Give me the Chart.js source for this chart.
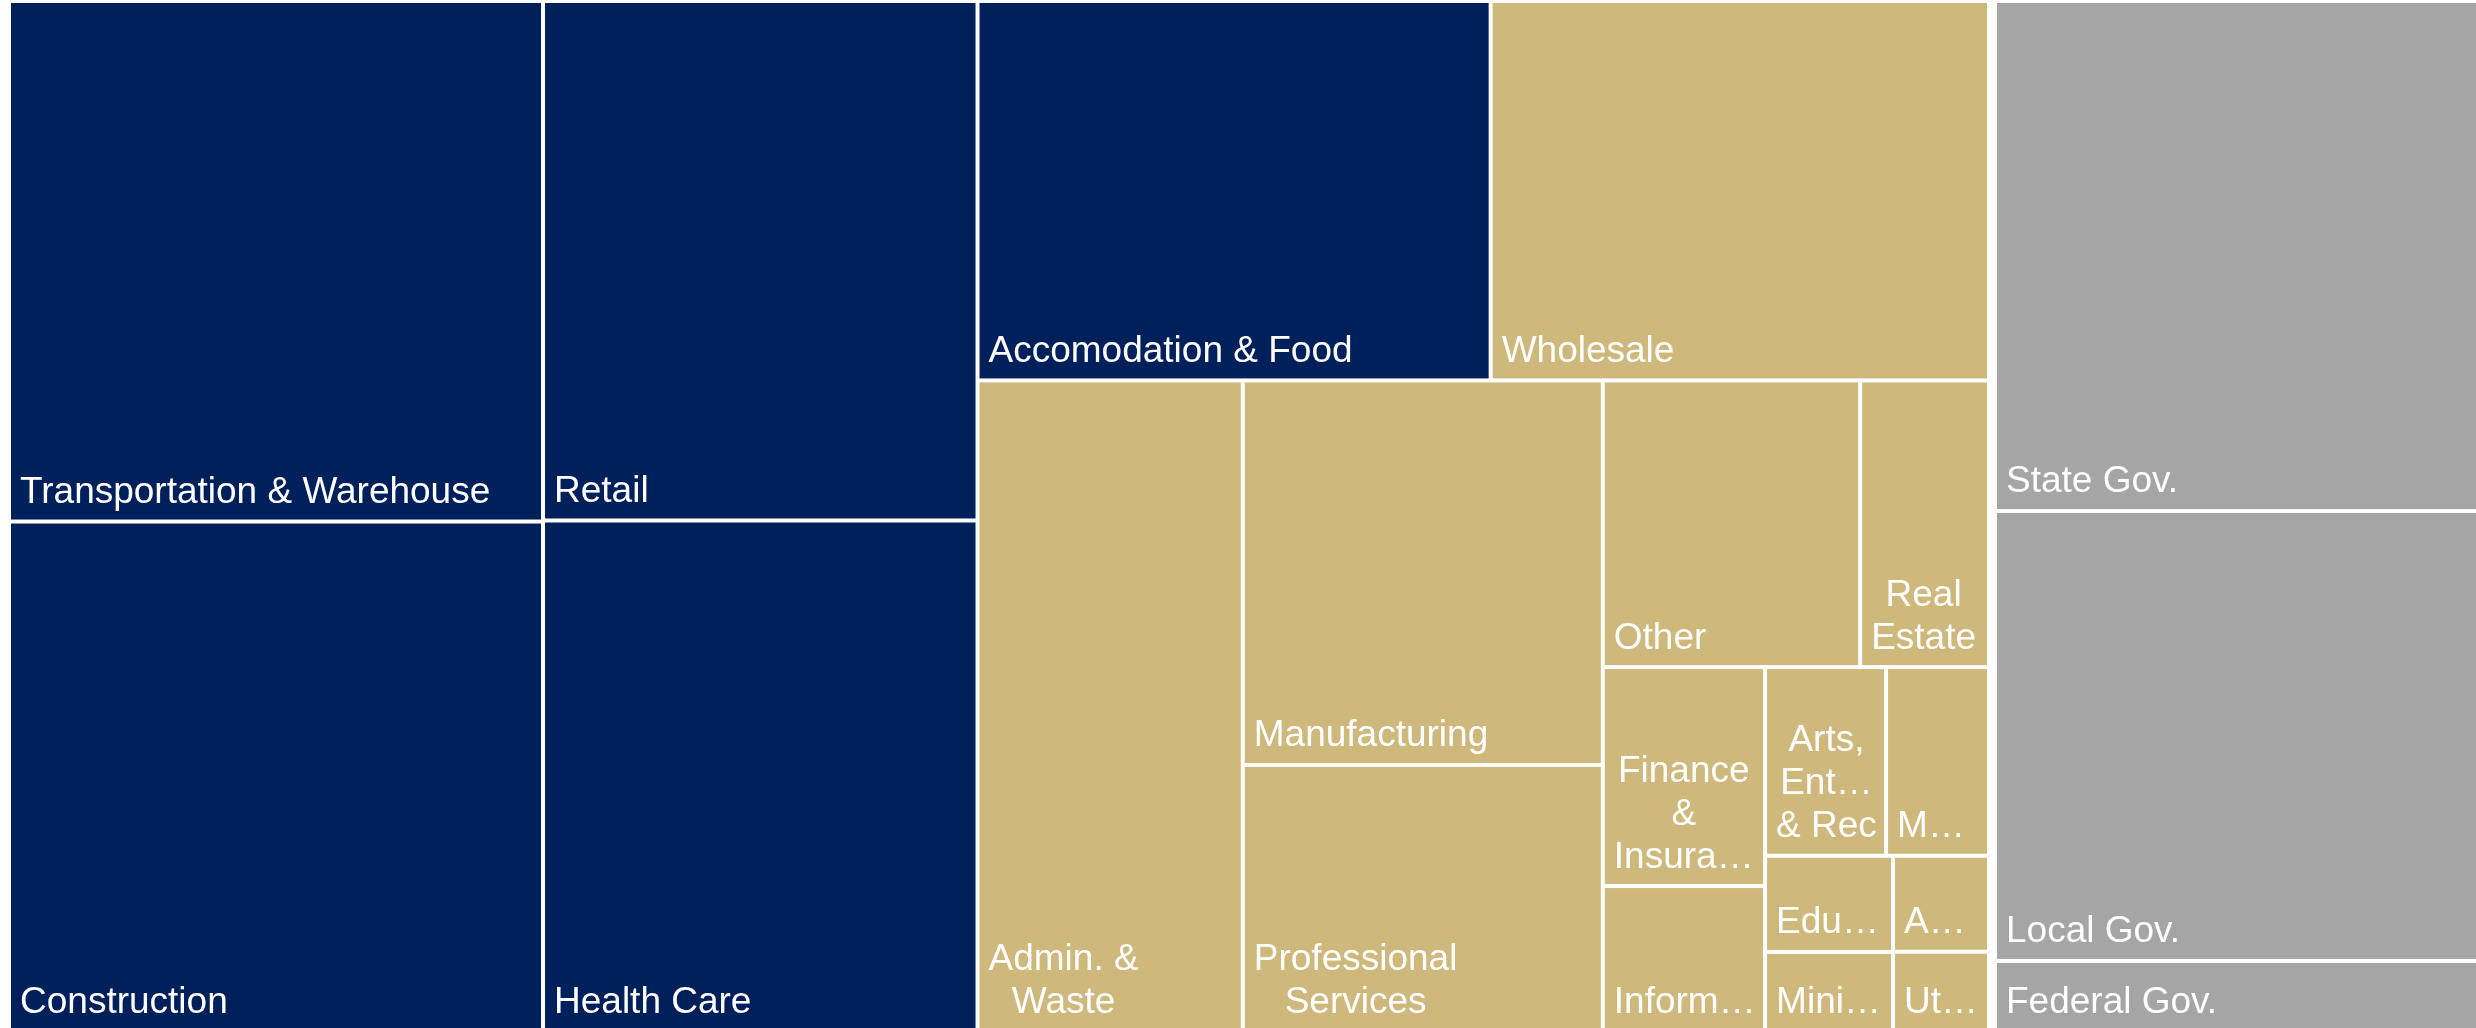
<!DOCTYPE html>
<html lang="en">
<head>
<meta charset="UTF-8" />
<title>Jobs by industry</title>
<script src="https://cdn.jsdelivr.net/npm/chart.js"></script>
<style>
  html, body { margin: 0; padding: 0; background: #ffffff; }
  #wrap { width: 2476px; height: 1028px; }
</style>
</head>
<body>
<div id="wrap"><canvas id="treemap"></canvas></div>
<script>
// Private industries, largest first
const industries = [
  "Transportation & Warehouse", "Construction", "Retail", "Health Care",
  "Accomodation & Food", "Wholesale", "Admin. & Waste", "Manufacturing",
  "Professional Services", "Other", "Real Estate", "Finance & Insurance",
  "Information", "Arts, Entertainment & Rec", "Management", "Education",
  "Mining", "Agriculture", "Utilities"
];
const industryValues = [2777, 2718, 2255, 2216, 1945, 1889, 1724, 1383, 957, 737, 369, 355, 235, 228, 194, 123, 101, 92, 76];
const industryTier = ["top", "top", "top", "top", "top", "other", "other", "other", "other", "other",
  "other", "other", "other", "other", "other", "other", "other", "other", "other"];

// Government
const government = ["State Gov.", "Local Gov.", "Federal Gov."];
const governmentValues = [2489, 2196, 342];

// how many cells go in each strip of the layout
const privateStrips = [2, 2, 2, 1, 2, 2, 2, 2, 2, 1, 1];
const governmentStrips = [1, 1, 1];

const tierColors = { top: "#00205C", other: "#CFB87C", gov: "#A5A5A5" };
const CELL_GAP = 4;
const GROUP_INSET = 3;
const LABEL_FONT = '37px "Liberation Sans", Arial, sans-serif';

const sum = arr => arr.reduce((a, b) => a + b, 0);

// lay values into strips, each strip along the short side of what is left
function stripLayout(values, rect, counts) {
  let { x, y, w, h } = rect;
  let left = sum(values);
  const out = [];
  let i = 0;
  for (const n of counts) {
    const part = values.slice(i, i + n);
    const s = sum(part);
    if (w >= h) {
      const t = w * s / left;
      let cy = y;
      part.forEach(v => {
        const ch = h * v / s;
        out.push({ x0: x, y0: cy, x1: x + t, y1: cy + ch });
        cy += ch;
      });
      x += t; w -= t;
    } else {
      const t = h * s / left;
      let cx = x;
      part.forEach(v => {
        const cw = w * v / s;
        out.push({ x0: cx, y0: y, x1: cx + cw, y1: y + t });
        cx += cw;
      });
      y += t; h -= t;
    }
    left -= s;
    i += n;
  }
  return out;
}

function inset(r, d) {
  return { x: r.x0 + d, y: r.y0 + d, w: r.x1 - r.x0 - 2 * d, h: r.y1 - r.y0 - 2 * d };
}

function buildCells() {
  const sectorValues = [sum(industryValues), sum(governmentValues)];
  const sectors = stripLayout(sectorValues, { x: 6, y: -2, w: 2476, h: 1036 }, [1, 1]);
  const cells = [];
  stripLayout(industryValues, inset(sectors[0], GROUP_INSET), privateStrips).forEach((r, k) => {
    cells.push({ ...r, label: industries[k], color: tierColors[industryTier[k]] });
  });
  stripLayout(governmentValues, inset(sectors[1], GROUP_INSET), governmentStrips).forEach((r, k) => {
    cells.push({ ...r, label: government[k], color: tierColors.gov });
  });
  return cells;
}

// shorten a single word with an ellipsis until it fits
function fitWord(ctx, word, maxW) {
  if (ctx.measureText(word).width <= maxW) return word;
  for (let k = word.length - 1; k > 0; k--) {
    const s = word.slice(0, k) + "\u2026";
    if (ctx.measureText(s).width <= maxW) return s;
  }
  return word[0] + "\u2026";
}

function wrapWords(ctx, text, maxW) {
  const lines = [];
  let cur = "";
  for (const word of text.split(" ")) {
    const test = cur ? cur + " " + word : word;
    if (ctx.measureText(test).width <= maxW) {
      cur = test;
    } else {
      if (cur) lines.push(cur);
      cur = fitWord(ctx, word, maxW);
    }
  }
  if (cur) lines.push(cur);
  return lines;
}

function drawLabel(ctx, text, l, t, r, b) {
  ctx.font = LABEL_FONT;
  const lines = wrapWords(ctx, text, (r - l) - 15);
  const lineH = 43;
  const maxLines = Math.max(1, Math.floor((b - t - 20) / lineH));
  const shown = lines.slice(0, maxLines);
  const blockW = Math.max(...shown.map(s => ctx.measureText(s).width));
  const cx = l + 9 + blockW / 2;
  ctx.textAlign = "center";
  ctx.textBaseline = "alphabetic";
  ctx.fillStyle = "#ffffff";
  shown.forEach((s, k) => {
    ctx.fillText(s, cx, b - 16.5 - (shown.length - 1 - k) * lineH);
  });
}

const treemapPlugin = {
  id: "treemapCells",
  beforeDatasetsDraw(chart) {
    const { ctx, scales } = chart;
    const sx = scales.x, sy = scales.y;
    const half = CELL_GAP / 2;
    ctx.save();
    buildCells().forEach(c => {
      const l = sx.getPixelForValue(c.x0 + half);
      const r = sx.getPixelForValue(c.x1 - half);
      const t = sy.getPixelForValue(c.y0 + half);
      const b = sy.getPixelForValue(c.y1 - half);
      ctx.fillStyle = c.color;
      ctx.fillRect(l, t, r - l, b - t);
      drawLabel(ctx, c.label, l, t, r, b);
    });
    ctx.restore();
  }
};

new Chart(document.getElementById("treemap"), {
  type: "scatter",
  data: { datasets: [] },
  options: {
    responsive: true,
    maintainAspectRatio: false,
    animation: false,
    layout: { padding: 0 },
    plugins: { legend: { display: false }, tooltip: { enabled: false } },
    scales: {
      x: { type: "linear", min: 0, max: 2476, display: false },
      y: { type: "linear", min: 0, max: 1028, reverse: true, display: false }
    }
  },
  plugins: [treemapPlugin]
});
</script>
</body>
</html>
